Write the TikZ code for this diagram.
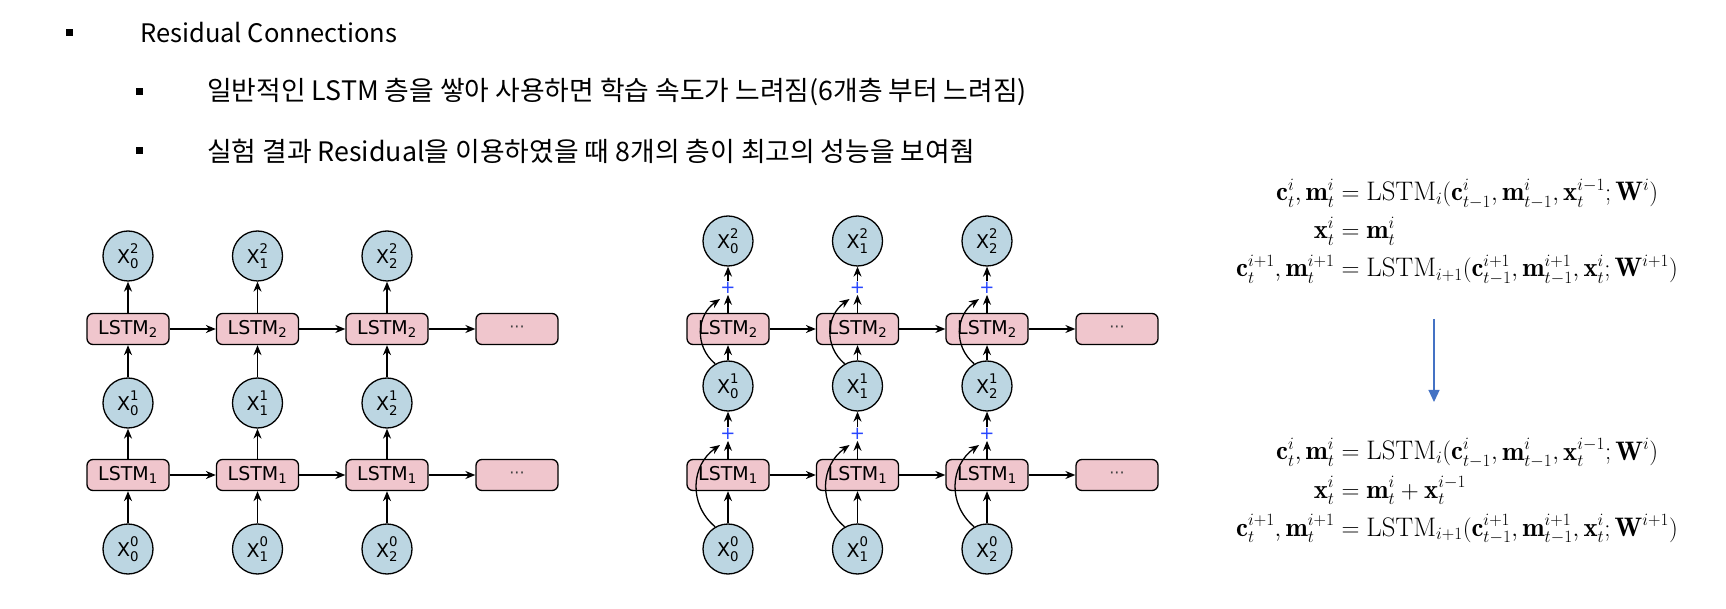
\documentclass[tikz,border=0pt]{standalone}
\usepackage{amsmath}
\usepackage{fontspec}
\newfontfamily\kofont{Noto Sans CJK KR}
\newfontfamily\dejavu{DejaVu Sans}
\setmathsf{DejaVu Sans}
\usetikzlibrary{arrows.meta}

\definecolor{nodeblue}{RGB}{188,214,226}
\definecolor{lstmpink}{RGB}{240,198,205}
\definecolor{plusblue}{RGB}{40,70,255}
\definecolor{arrowblue}{RGB}{68,114,196}

\begin{document}
\begin{tikzpicture}[
    x=1pt, y=1pt,
    >={Stealth[length=10pt,width=8pt]},
    every node/.style={font=\fontsize{19}{22}\selectfont},
    xnode/.style={circle, draw, line width=1.3pt, fill=nodeblue, minimum size=50pt, inner sep=0pt},
    lstm/.style={rectangle, draw, rounded corners=6pt, line width=1.3pt, fill=lstmpink, minimum width=82pt, minimum height=31pt, inner sep=0pt},
    dots/.style={font=\dejavu\fontsize{16}{18}\selectfont, text=black!75},
    plussign/.style={text=plusblue, inner sep=1pt, font=\dejavu\fontsize{18}{20}\selectfont},
    link/.style={->, line width=1.3pt},
    bullet/.style={rectangle, fill=black, minimum size=7pt, inner sep=0pt},
    itemtext/.style={anchor=west, inner sep=0pt, font=\kofont\fontsize{26.8}{30}\selectfont},
    eqblock/.style={inner sep=0pt, font=\fontsize{26.8}{35}\selectfont}
]
\useasboundingbox (0,0) rectangle (1726,608);
% Titolo e punti elenco
\node[bullet] (b1) at (69,575) {};
\node[itemtext, font=\kofont\fontsize{25.5}{30}\selectfont] (t1) at (140,575) {Residual Connections};
\node[bullet] (b2) at (139,516) {};
\node[itemtext] (t2) at (207,516) {일반적인 LSTM 층을 쌓아 사용하면 학습 속도가 느려짐(6개층 부터 느려짐)};
\node[bullet] (b3) at (139,457) {};
\node[itemtext] (t3) at (207,457) {실험 결과 Residual을 이용하였을 때 8개의 층이 최고의 성능을 보여줨};

% LSTM impilato senza residui
\foreach \x/\i in {128/0, 257.5/1, 387/2} {
    \node[xnode] (la0\i) at (\x,59) {$\mathsf{X}^{\mathsf{0}}_{\mathsf{\i}}$};
    \node[lstm] (lb1\i) at (\x,133) {$\mathsf{LSTM}_{\mathsf{1}}$};
    \node[xnode] (la1\i) at (\x,205) {$\mathsf{X}^{\mathsf{1}}_{\mathsf{\i}}$};
    \node[lstm] (lb2\i) at (\x,279) {$\mathsf{LSTM}_{\mathsf{2}}$};
    \node[xnode] (la2\i) at (\x,352) {$\mathsf{X}^{\mathsf{2}}_{\mathsf{\i}}$};
    \draw[link] (la0\i) -- (lb1\i);
    \draw[link] (lb1\i) -- (la1\i);
    \draw[link] (la1\i) -- (lb2\i);
    \draw[link] (lb2\i) -- (la2\i);
}
\node[lstm, dots] (lb13) at (517,133) {···};
\node[lstm, dots] (lb23) at (517,279) {···};
\foreach \i/\j in {0/1, 1/2, 2/3} {
    \draw[link] (lb1\i) -- (lb1\j);
    \draw[link] (lb2\i) -- (lb2\j);
}

% LSTM impilato con connessioni residue
\foreach \x/\i in {728/0, 857.5/1, 987/2} {
    \node[xnode] (ra0\i) at (\x,59) {$\mathsf{X}^{\mathsf{0}}_{\mathsf{\i}}$};
    \node[lstm] (rb1\i) at (\x,133) {$\mathsf{LSTM}_{\mathsf{1}}$};
    \node[plussign] (rp1\i) at (\x,174) {+};
    \node[xnode] (ra1\i) at (\x,222) {$\mathsf{X}^{\mathsf{1}}_{\mathsf{\i}}$};
    \node[lstm] (rb2\i) at (\x,279) {$\mathsf{LSTM}_{\mathsf{2}}$};
    \node[plussign] (rp2\i) at (\x,320) {+};
    \node[xnode] (ra2\i) at (\x,367) {$\mathsf{X}^{\mathsf{2}}_{\mathsf{\i}}$};
    \coordinate (re1\i) at (\x-8,163);
    \coordinate (re2\i) at (\x-8,309);
    \draw[link] (ra0\i) -- (rb1\i);
    \draw[link] (rb1\i) -- (rp1\i);
    \draw[link] (rp1\i) -- (ra1\i);
    \draw[link] (ra1\i) -- (rb2\i);
    \draw[link] (rb2\i) -- (rp2\i);
    \draw[link] (rp2\i) -- (ra2\i);
    \draw[link] (ra0\i.120) to[out=140, in=215, looseness=1.1] (re1\i);
    \draw[link] (ra1\i.120) to[out=140, in=215, looseness=1.1] (re2\i);
}
\node[lstm, dots] (rb13) at (1117,133) {···};
\node[lstm, dots] (rb23) at (1117,279) {···};
\foreach \i/\j in {0/1, 1/2, 2/3} {
    \draw[link] (rb1\i) -- (rb1\j);
    \draw[link] (rb2\i) -- (rb2\j);
}

% Equazioni prima e dopo
\node[eqblock] (eqtop) at (1457,376) {$\begin{aligned}
    \mathbf{c}^i_t, \mathbf{m}^i_t &= \mathrm{LSTM}_i(\mathbf{c}^i_{t-1}, \mathbf{m}^i_{t-1}, \mathbf{x}^{i-1}_t; \mathbf{W}^i)\\
    \mathbf{x}^i_t &= \mathbf{m}^i_t\\
    \mathbf{c}^{i+1}_t, \mathbf{m}^{i+1}_t &= \mathrm{LSTM}_{i+1}(\mathbf{c}^{i+1}_{t-1}, \mathbf{m}^{i+1}_{t-1}, \mathbf{x}^i_t; \mathbf{W}^{i+1})
\end{aligned}$};
\node[eqblock] (eqbot) at (1457,117) {$\begin{aligned}
    \mathbf{c}^i_t, \mathbf{m}^i_t &= \mathrm{LSTM}_i(\mathbf{c}^i_{t-1}, \mathbf{m}^i_{t-1}, \mathbf{x}^{i-1}_t; \mathbf{W}^i)\\
    \mathbf{x}^i_t &= \mathbf{m}^i_t + \mathbf{x}^{i-1}_t\\
    \mathbf{c}^{i+1}_t, \mathbf{m}^{i+1}_t &= \mathrm{LSTM}_{i+1}(\mathbf{c}^{i+1}_{t-1}, \mathbf{m}^{i+1}_{t-1}, \mathbf{x}^i_t; \mathbf{W}^{i+1})
\end{aligned}$};
\coordinate (arrtop) at (1434,289);
\coordinate (arrtip) at (1434,206);
\draw[arrowblue, line width=1.2pt, -{Triangle[length=12pt,width=11pt]}] (arrtop) -- (arrtip);
\end{tikzpicture}
\end{document}
